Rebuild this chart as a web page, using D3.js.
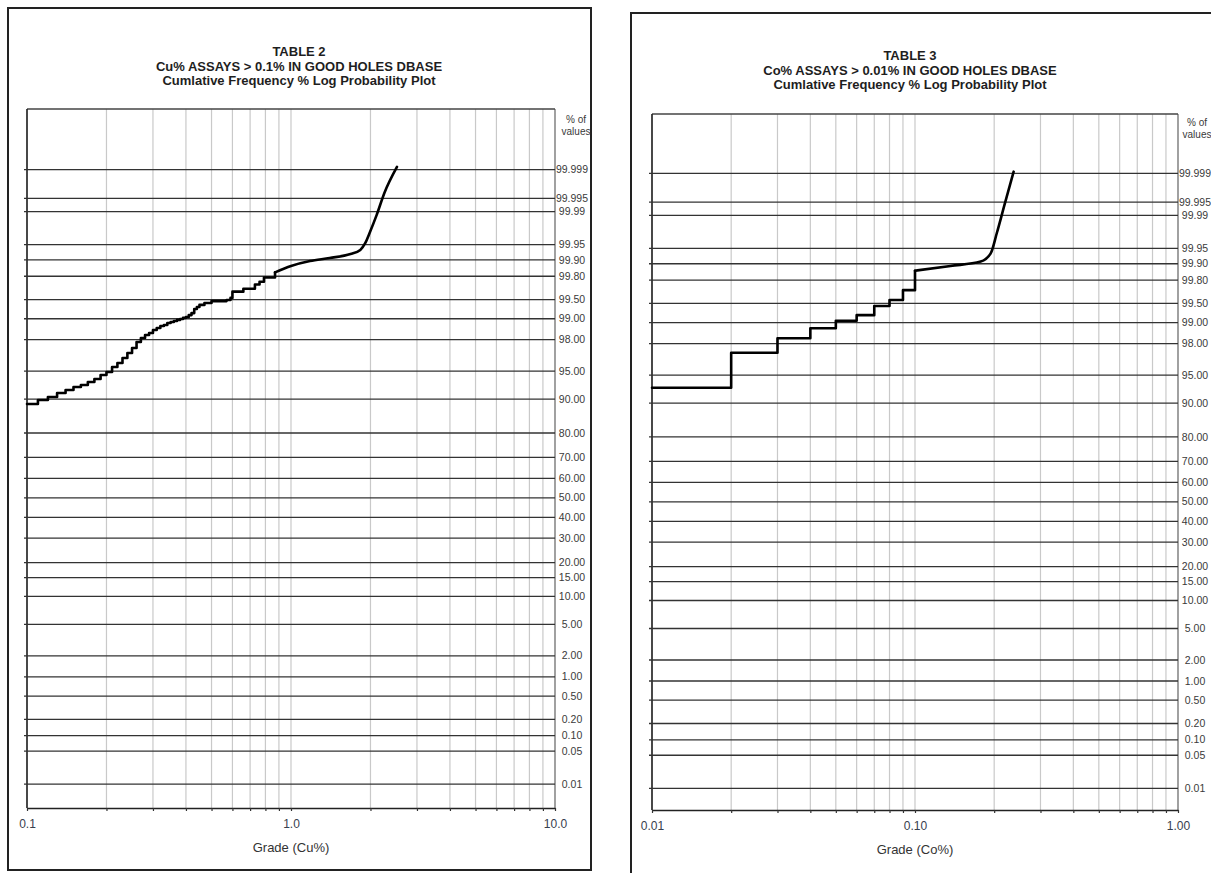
<!DOCTYPE html>
<html>
<head>
<meta charset="utf-8">
<script src="https://cdn.jsdelivr.net/npm/d3@7"></script>
<style>
body { margin: 0; background: #fff; }
svg { display: block; font-family: Arial, "Liberation Sans", sans-serif; }
.frame { fill: none; stroke: #222; stroke-width: 2; }
.title { font-size: 13px; font-weight: bold; fill: #1e1e1e; text-anchor: middle; }
.grid-v { stroke: #c9c9c9; stroke-width: 1.2; }
.grid-h { stroke: #333; stroke-width: 1.3; }
.plab { font-size: 10.5px; fill: #3a3a3a; text-anchor: middle; }
.unit { font-size: 10px; fill: #3a3a3a; text-anchor: middle; }
.xtitle { font-size: 13px; fill: #333; text-anchor: middle; }
.curve { fill: none; stroke: #000; stroke-width: 2.6; stroke-linejoin: round; stroke-linecap: round; }
</style>
</head>
<body>
<svg id="chart" width="1211" height="873"></svg>
<script>
// probability axis levels (% of values)
var probLevels = [99.999, 99.995, 99.99, 99.95, 99.90, 99.80, 99.50, 99.00, 98.00, 95.00, 90.00,
  80.00, 70.00, 60.00, 50.00, 40.00, 30.00, 20.00, 15.00, 10.00, 5.00, 2.00, 1.00, 0.50,
  0.20, 0.10, 0.05, 0.01];
var probLabels = ["99.999", "99.995", "99.99", "99.95", "99.90", "99.80", "99.50", "99.00", "98.00",
  "95.00", "90.00", "80.00", "70.00", "60.00", "50.00", "40.00", "30.00", "20.00", "15.00",
  "10.00", "5.00", "2.00", "1.00", "0.50", "0.20", "0.10", "0.05", "0.01"];

// TABLE 2 - Cu%
var cuStepGrade = [0.10, 0.11, 0.12, 0.13, 0.14, 0.15, 0.16, 0.17, 0.18, 0.19, 0.20, 0.21, 0.22,
  0.23, 0.24, 0.25, 0.26, 0.27, 0.28, 0.29, 0.30, 0.31, 0.32, 0.33, 0.34, 0.35, 0.36, 0.37, 0.38,
  0.39, 0.40, 0.41, 0.42, 0.43, 0.44, 0.45, 0.47, 0.50, 0.57, 0.59, 0.60, 0.66, 0.73, 0.76, 0.79, 0.87];
var cuStepPct = [88.85, 89.81, 90.48, 91.33, 91.93, 92.50, 92.86, 93.38, 93.86, 94.47, 94.89, 95.54,
  96.01, 96.53, 97.00, 97.42, 97.85, 98.11, 98.28, 98.39, 98.54, 98.63, 98.72, 98.76, 98.84, 98.88,
  98.92, 98.96, 98.99, 99.03, 99.06, 99.12, 99.18, 99.29, 99.34, 99.39, 99.43, 99.47, 99.49, 99.53,
  99.63, 99.67, 99.72, 99.75, 99.79, 99.83];
var cuTailGrade = [0.87, 1.0, 1.18, 1.4, 1.68, 1.83, 1.91, 1.99, 2.11, 2.26, 2.52];
var cuTailPct = [99.83, 99.870, 99.895, 99.908, 99.923, 99.936, 99.953, 99.972, 99.988, 99.9963, 99.99914];
var cuTicks = [0.1, 1, 10];
var cuTickLabels = ["0.1", "1.0", "10.0"];

// TABLE 3 - Co%
var coStepGrade = [0.01, 0.02, 0.03, 0.04, 0.05, 0.06, 0.07, 0.08, 0.09, 0.10];
var coStepPct = [93.07, 97.35, 98.31, 98.79, 99.06, 99.23, 99.45, 99.56, 99.70, 99.865];
var coTailGrade = [0.10, 0.1365, 0.1777, 0.194, 0.2046, 0.2198, 0.2372];
var coTailPct = [99.865, 99.890, 99.909, 99.937, 99.9755, 99.9947, 99.99909];
var coTicks = [0.01, 0.1, 1];
var coTickLabels = ["0.01", "0.10", "1.00"];

// inverse normal cdf (Acklam) for the probability scale
function probit(p) {
  var a = [-3.969683028665376e+01, 2.209460984245205e+02, -2.759285104469687e+02,
           1.383577518672690e+02, -3.066479806614716e+01, 2.506628277459239e+00];
  var b = [-5.447609879822406e+01, 1.615858368580409e+02, -1.556989798598866e+02,
           6.680131188771972e+01, -1.328068155288572e+01];
  var c = [-7.784894002430293e-03, -3.223964580411365e-01, -2.400758277161838e+00,
           -2.549732539343734e+00, 4.374664141464968e+00, 2.938163982698783e+00];
  var d = [7.784695709041462e-03, 3.224671290700398e-01, 2.445134111537506e+00,
           3.754408661907416e+00];
  var plow = 0.02425, q, r;
  if (p < plow) {
    q = Math.sqrt(-2 * Math.log(p));
    return (((((c[0]*q+c[1])*q+c[2])*q+c[3])*q+c[4])*q+c[5]) / ((((d[0]*q+d[1])*q+d[2])*q+d[3])*q+1);
  }
  if (p <= 1 - plow) {
    q = p - 0.5; r = q * q;
    return (((((a[0]*r+a[1])*r+a[2])*r+a[3])*r+a[4])*r+a[5])*q / (((((b[0]*r+b[1])*r+b[2])*r+b[3])*r+b[4])*r+1);
  }
  q = Math.sqrt(-2 * Math.log(1 - p));
  return -(((((c[0]*q+c[1])*q+c[2])*q+c[3])*q+c[4])*q+c[5]) / ((((d[0]*q+d[1])*q+d[2])*q+d[3])*q+1);
}

var panels = [
  { frame: [8, 8, 583, 862], left: 27, right: 555, top: 109, bottom: 808, y50: 497.8, sigma: 76.97,
    titleX: 299, titleY: 56, unitX: 576, unitY: 123,
    titles: ["TABLE 2", "Cu% ASSAYS > 0.1% IN GOOD HOLES DBASE", "Cumlative Frequency % Log Probability Plot"],
    domain: [0.1, 10], ticks: cuTicks, tickLabels: cuTickLabels, xTitle: "Grade (Cu%)",
    stepG: cuStepGrade, stepP: cuStepPct, tailG: cuTailGrade, tailP: cuTailPct },
  { frame: [631, 13, 583, 872], left: 652, right: 1178, top: 114, bottom: 810, y50: 501.8, sigma: 77.03,
    titleX: 910, titleY: 60, unitX: 1197, unitY: 126,
    titles: ["TABLE 3", "Co% ASSAYS > 0.01% IN GOOD HOLES DBASE", "Cumlative Frequency % Log Probability Plot"],
    domain: [0.01, 1], ticks: coTicks, tickLabels: coTickLabels, xTitle: "Grade (Co%)",
    stepG: coStepGrade, stepP: coStepPct, tailG: coTailGrade, tailP: coTailPct }
];

var svg = d3.select("#chart");

panels.forEach(function(pn) {
  var g = svg.append("g");

  g.append("rect").attr("class", "frame")
    .attr("x", pn.frame[0]).attr("y", pn.frame[1])
    .attr("width", pn.frame[2]).attr("height", pn.frame[3]);

  g.selectAll(".title").data(pn.titles).enter().append("text")
    .attr("class", "title")
    .attr("x", pn.titleX).attr("y", function(d, i) { return pn.titleY + i * 14.5; })
    .text(function(d) { return d; });

  var x = d3.scaleLog().domain(pn.domain).range([pn.left, pn.right]);
  var z = d3.scaleLinear().domain([0, 1]).range([pn.y50, pn.y50 - pn.sigma]);
  var y = function(pct) { return z(probit(pct / 100)); };

  // vertical log grid
  g.selectAll(".grid-v").data(x.ticks()).enter().append("line")
    .attr("class", "grid-v")
    .attr("x1", function(d) { return x(d); }).attr("x2", function(d) { return x(d); })
    .attr("y1", pn.top).attr("y2", pn.bottom);

  // plot box
  g.append("line").attr("x1", pn.right).attr("x2", pn.right).attr("y1", pn.top).attr("y2", pn.bottom)
    .attr("stroke", "#777").attr("stroke-width", 1.2);
  g.append("line").attr("x1", pn.left).attr("x2", pn.right).attr("y1", pn.top).attr("y2", pn.top)
    .attr("stroke", "#444").attr("stroke-width", 1.4);
  g.append("line").attr("x1", pn.left).attr("x2", pn.left).attr("y1", pn.top).attr("y2", pn.bottom)
    .attr("stroke", "#222").attr("stroke-width", 1.6);

  // probability levels
  g.selectAll(".grid-h").data(probLevels).enter().append("line")
    .attr("class", "grid-h")
    .attr("x1", pn.left - 3).attr("x2", pn.right)
    .attr("y1", function(d) { return y(d); }).attr("y2", function(d) { return y(d); })
    .attr("stroke", function(d) { return d === 80 ? "#aaa" : null; });

  g.selectAll(".plab").data(probLevels).enter().append("text")
    .attr("class", "plab")
    .attr("x", pn.right + 17)
    .attr("y", function(d) { return y(d) + 3.6; })
    .text(function(d, i) { return probLabels[i]; });

  g.append("text").attr("class", "unit").attr("x", pn.unitX).attr("y", pn.unitY).text("% of");
  g.append("text").attr("class", "unit").attr("x", pn.unitX).attr("y", pn.unitY + 12).text("values");

  // x axis
  var axis = d3.axisBottom(x)
    .tickValues(x.ticks())
    .tickSizeInner(3).tickSizeOuter(0).tickPadding(8)
    .tickFormat(function(d) {
      var i = pn.ticks.findIndex(function(t) { return Math.abs(t - d) < 1e-9; });
      return i >= 0 ? pn.tickLabels[i] : "";
    });
  var ax = g.append("g").attr("transform", "translate(0," + pn.bottom + ")").call(axis);
  ax.select(".domain").attr("stroke", "#222").attr("stroke-width", 1.6);
  ax.selectAll(".tick line").attr("stroke", "#333").attr("stroke-width", 1.2);
  ax.selectAll(".tick text").attr("font-size", 12).attr("fill", "#37404e")
    .attr("font-family", "Arial, 'Liberation Sans', sans-serif");

  g.append("text").attr("class", "xtitle")
    .attr("x", (pn.left + pn.right) / 2).attr("y", pn.bottom + 44)
    .text(pn.xTitle);

  // cumulative frequency curve
  var stepLine = d3.line()
    .x(function(d) { return x(d[0]); })
    .y(function(d) { return y(d[1]); })
    .curve(d3.curveStepAfter);
  var tailLine = d3.line()
    .x(function(d) { return x(d[0]); })
    .y(function(d) { return y(d[1]); })
    .curve(d3.curveMonotoneX);

  g.append("path").attr("class", "curve")
    .attr("d", stepLine(d3.zip(pn.stepG, pn.stepP)));
  g.append("path").attr("class", "curve")
    .attr("d", tailLine(d3.zip(pn.tailG, pn.tailP)));
});
</script>
</body>
</html>
